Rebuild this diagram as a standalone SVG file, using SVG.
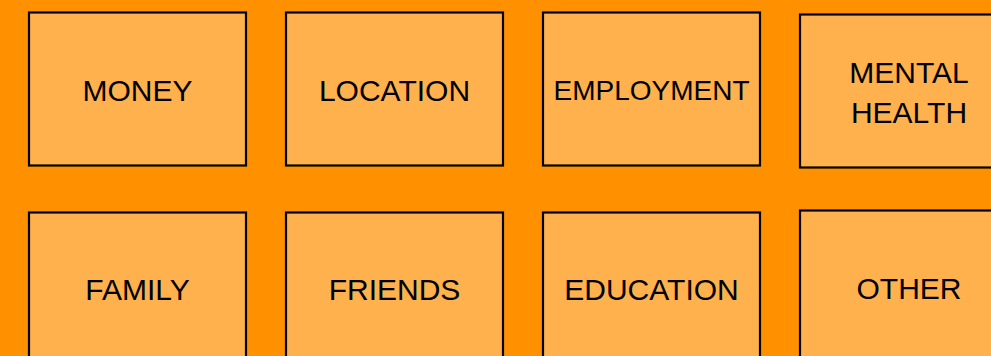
<svg xmlns="http://www.w3.org/2000/svg" width="991" height="356" viewBox="0 0 991 356">
  <style>
    .box { fill: #FFB14D; stroke: #000000; stroke-width: 2.2; }
    .lbl { font-family: "Liberation Sans", Arial, sans-serif; font-size: 30px; fill: #000000; text-anchor: middle; }
    .small { font-size: 28px; }
  </style>
  <rect x="0" y="0" width="991" height="356" fill="#FF9100"/>

  <!-- top row -->
  <g id="money">
    <rect class="box" x="29" y="12.5" width="217" height="153"/>
    <text class="lbl" x="137.5" y="101">MONEY</text>
  </g>
  <g id="location">
    <rect class="box" x="286" y="12.5" width="217" height="153"/>
    <text class="lbl" x="394.5" y="101">LOCATION</text>
  </g>
  <g id="employment">
    <rect class="box" x="543" y="12.5" width="217" height="153"/>
    <text class="lbl small" x="651.5" y="100">EMPLOYMENT</text>
  </g>
  <g id="mental-health">
    <rect class="box" x="800" y="14.5" width="217" height="153"/>
    <text class="lbl" x="909" y="82.5">MENTAL</text>
    <text class="lbl" x="909" y="122.5">HEALTH</text>
  </g>

  <!-- bottom row -->
  <g id="family">
    <rect class="box" x="29" y="212.5" width="217" height="160"/>
    <text class="lbl" x="137.5" y="300">FAMILY</text>
  </g>
  <g id="friends">
    <rect class="box" x="286" y="212.5" width="217" height="160"/>
    <text class="lbl" x="394.5" y="300">FRIENDS</text>
  </g>
  <g id="education">
    <rect class="box" x="543" y="212.5" width="217" height="160"/>
    <text class="lbl" x="651.5" y="300">EDUCATION</text>
  </g>
  <g id="other">
    <rect class="box" x="800" y="210.5" width="217" height="160"/>
    <text class="lbl" x="909" y="299">OTHER</text>
  </g>

  <g id="connectors"/>
</svg>
